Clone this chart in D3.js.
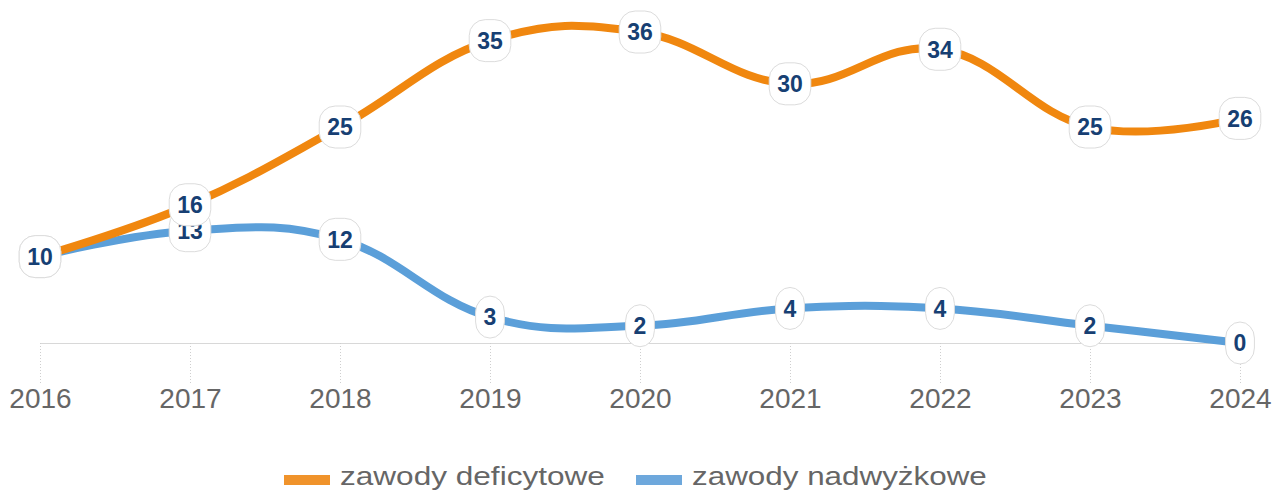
<!DOCTYPE html>
<html><head><meta charset="utf-8">
<script src="https://cdn.jsdelivr.net/npm/d3@7"></script>
<style>html,body{margin:0;padding:0;background:#fff;}svg{display:block;font-family:"Liberation Sans",Arial,sans-serif;}</style>
</head><body>
<svg id="c" width="1280" height="492"></svg>
<script>
const years = ["2016","2017","2018","2019","2020","2021","2022","2023","2024"];
const deficytowe = [10,16,25,35,36,30,34,25,26];
const nadwyzkowe = [10,13,12,3,2,4,4,2,0];
const seriesNames = ["zawody deficytowe","zawody nadwyżkowe"];
const seriesColors = ["#f0870f","#5b9fd9"];
const legendColors = ["#f0932b","#6ea8dc"];

const svg = d3.select("#c");
const x = d3.scalePoint().domain(years).range([40,1240]);
const y = d3.scaleLinear().domain([0,36]).range([343,32]);

// axis
const ax = svg.append("g").attr("transform","translate(0,343)")
  .call(d3.axisBottom(x).tickSize(40).tickPadding(5));
ax.select(".domain").attr("stroke","#d8d8d8").attr("d","M40,0.5H1240");
ax.selectAll(".tick line").attr("stroke","#cfcfcf").attr("stroke-dasharray","1,2");
ax.selectAll(".tick text").attr("fill","#666").attr("font-size","28px").attr("dy","0.71em").attr("y",45);

// Highcharts-like spline (unclamped)
function splinePath(vals){
  const pts = vals.map((v,i)=>({x:x(years[i]),y:y(v)}));
  const s=1.5, den=s+1;
  let d = `M${pts[0].x},${pts[0].y}`;
  let prevR = null;
  for(let i=1;i<pts.length;i++){
    const p=pts[i], l=pts[i-1], n=pts[i+1];
    let lcx=p.x, lcy=p.y, rc=null;
    if(n){
      lcx=(s*p.x+l.x)/den; lcy=(s*p.y+l.y)/den;
      let rcx=(s*p.x+n.x)/den, rcy=(s*p.y+n.y)/den;
      const corr=((rcy-lcy)*(rcx-p.x))/(rcx-lcx)+p.y-rcy;
      lcy+=corr; rcy+=corr;
      rc=[rcx,rcy];
    }
    const c1 = prevR || [l.x,l.y];
    d += `C${c1[0]},${c1[1]},${lcx},${lcy},${p.x},${p.y}`;
    prevR = rc;
  }
  return d;
}

const data = [nadwyzkowe, deficytowe];
const cols = [seriesColors[1], seriesColors[0]];
data.forEach((vals,k)=>{
  svg.append("path").attr("d",splinePath(vals)).attr("fill","none")
    .attr("stroke",cols[k]).attr("stroke-width",8).attr("stroke-linecap","round").attr("stroke-linejoin","round");
});

// labels
data.forEach(vals=>{
  const g = svg.append("g");
  vals.forEach((v,i)=>{
    const lg = g.append("g").attr("transform",`translate(${x(years[i])},${y(v)})`);
    const t = lg.append("text").text(v).attr("text-anchor","middle").attr("dy","0.36em")
      .attr("font-size","23px").attr("font-weight","bold").attr("fill","#173f73");
    const w = t.node().getComputedTextLength()+16;
    lg.insert("rect","text").attr("x",-w/2).attr("y",-21).attr("width",w).attr("height",42)
      .attr("rx",16).attr("fill","#fff").attr("stroke","#dcdcdc").attr("stroke-width",1);
  });
});

// legend
const lgd = svg.append("g");
const textStarts = [340, 692];
const textWidths = [265, 295];
seriesNames.forEach((nm,k)=>{
  const tx = textStarts[k];
  lgd.append("rect").attr("x",tx-56).attr("y",475).attr("width",46).attr("height",10).attr("fill",legendColors[k]);
  const t = lgd.append("text").text(nm).attr("fill","#666").attr("font-size","26px");
  const w = t.node().getComputedTextLength();
  t.attr("transform",`translate(${tx},485) scale(${textWidths[k]/w},1)`);
});
</script>
</body></html>
